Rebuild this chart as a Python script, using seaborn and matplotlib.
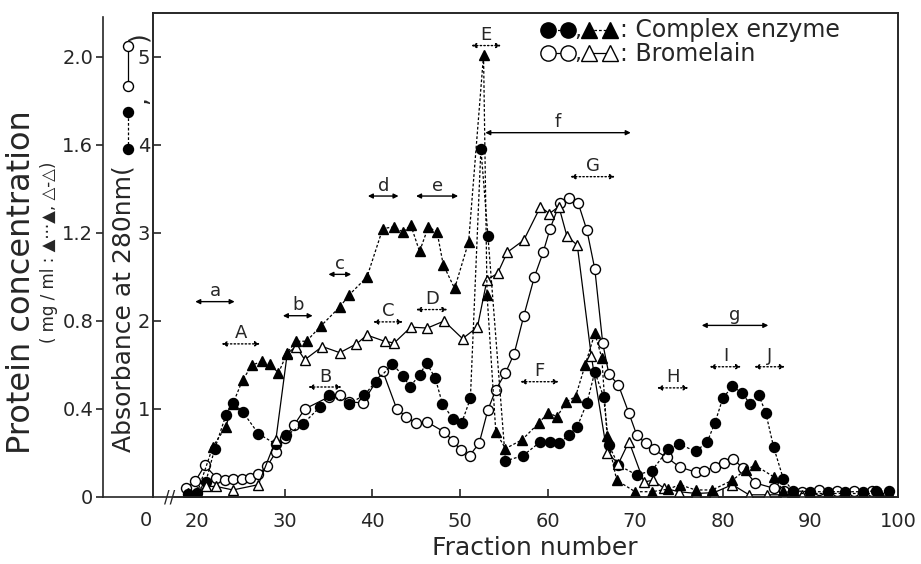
import matplotlib
matplotlib.use("Agg")
import matplotlib.pyplot as plt
import seaborn as sns
import pandas as pd

# ---------------- data ----------------
# Complex enzyme, absorbance at 280 nm (filled circles)
ce_abs_fraction = [19, 20, 21, 22, 23.3, 24.1, 25.2, 27, 29, 30.2, 32.1, 34, 35.1, 37.4, 39.1, 40.4,
                   42.3, 43.5, 44.3, 45.4, 46.2, 47.2, 48, 49.2, 50.2, 51.2, 52.4, 53.2, 55.2, 57.2,
                   59.1, 60.3, 61.3, 62.4, 63.4, 64.5, 65.4, 66.4, 67, 68.1, 70.2, 71.9, 73.8, 75,
                   76.9, 78.2, 79.1, 80, 81.1, 82.2, 83.1, 84.1, 84.9, 85.8, 86.9, 88, 90, 92, 94,
                   96, 97.5, 99]
ce_abs = [0.03, 0.05, 0.17, 0.54, 0.93, 1.07, 0.97, 0.72, 0.60, 0.70, 0.83, 1.02, 1.16, 1.06, 1.16,
          1.31, 1.51, 1.38, 1.25, 1.39, 1.52, 1.35, 1.06, 0.89, 0.84, 1.12, 3.96, 2.97, 0.41, 0.47,
          0.62, 0.63, 0.61, 0.70, 0.80, 1.07, 1.42, 1.14, 0.59, 0.36, 0.25, 0.30, 0.54, 0.60, 0.52,
          0.62, 0.84, 1.12, 1.26, 1.18, 1.06, 1.16, 0.96, 0.57, 0.21, 0.07, 0.06, 0.06, 0.06, 0.06,
          0.07, 0.07]

# Complex enzyme, protein concentration mg/ml (filled triangles)
ce_prot_fraction = [19, 20, 21.8, 23.3, 24.1, 25.2, 26.3, 27.4, 28.3, 29.3, 30.3, 31.3, 32.5, 34.1,
                    36.3, 37.4, 39.4, 41.2, 42.5, 43.5, 44.4, 45.4, 46.4, 47.4, 48.1, 49.4, 51, 52.7,
                    53.1, 54.1, 55.2, 57.1, 59, 60.1, 61.1, 62.1, 63.2, 64.3, 65.4, 66.2, 66.8, 67.9,
                    70, 71.9, 73.8, 75.1, 76.9, 78.8, 81.1, 82.6, 83.7, 85.8, 86.9, 88, 90, 92, 94,
                    96, 98, 99]
ce_prot = [0.016, 0.016, 0.228, 0.32, 0.424, 0.532, 0.60, 0.616, 0.604, 0.564, 0.656, 0.708, 0.708,
           0.776, 0.864, 0.92, 1.0, 1.22, 1.228, 1.204, 1.236, 1.116, 1.228, 1.204, 1.056, 0.948,
           1.16, 2.008, 0.92, 0.296, 0.22, 0.26, 0.336, 0.384, 0.364, 0.432, 0.456, 0.60, 0.744,
           0.632, 0.276, 0.076, 0.024, 0.024, 0.036, 0.056, 0.032, 0.032, 0.076, 0.124, 0.144,
           0.092, 0.028, 0.016, 0.016, 0.016, 0.016, 0.016, 0.016, 0.016]

# Bromelain, absorbance at 280 nm (open circles)
br_abs_fraction = [18.8, 19.8, 20.9, 22.2, 23.2, 24.1, 25.1, 26, 27, 28, 29, 30, 31.1, 32.3, 35.1,
                   36.3, 37.4, 38.9, 41.2, 42.8, 43.9, 45, 46.3, 48.2, 49.2, 50.1, 51.1, 52.2, 53.2,
                   54.1, 55.2, 56.2, 57.3, 58.5, 59.5, 60.3, 61.4, 62.4, 63.5, 64.5, 65.4, 66.3, 67,
                   68.1, 69.3, 70.2, 71.2, 72.1, 73.6, 75.1, 77, 77.9, 79.1, 80.1, 81.2, 82.3, 83.7,
                   85.8, 87, 89, 91, 93, 95, 97]
br_abs = [0.10, 0.18, 0.36, 0.22, 0.19, 0.20, 0.21, 0.22, 0.26, 0.35, 0.51, 0.67, 0.82, 1.0, 1.14,
          1.16, 1.08, 1.07, 1.43, 1.0, 0.91, 0.84, 0.85, 0.74, 0.64, 0.53, 0.47, 0.61, 0.99, 1.22,
          1.41, 1.63, 2.06, 2.50, 2.78, 3.05, 3.34, 3.40, 3.34, 3.03, 2.59, 1.75, 1.40, 1.27, 0.95,
          0.70, 0.61, 0.54, 0.45, 0.34, 0.28, 0.30, 0.34, 0.39, 0.43, 0.33, 0.16, 0.10, 0.07, 0.06,
          0.08, 0.07, 0.07, 0.07]

# Bromelain, protein concentration mg/ml (open triangles)
br_prot_fraction = [19, 20, 21, 22.2, 24.1, 27, 29, 30.3, 31.3, 32.3, 34.3, 36.3, 38.2, 39.4, 41.4,
                    42.5, 44.4, 46.3, 48.2, 50.3, 52, 53.1, 54.3, 55.4, 57.3, 59.2, 60.2, 61.3, 62.2,
                    63.4, 65, 66.8, 68.1, 69.3, 71, 72, 73.3, 75, 77, 79, 81.1, 83, 85, 87, 89]
br_prot = [0.012, 0.024, 0.048, 0.048, 0.032, 0.056, 0.26, 0.652, 0.684, 0.624, 0.684, 0.656, 0.696,
           0.736, 0.708, 0.70, 0.772, 0.768, 0.80, 0.72, 0.772, 0.988, 1.016, 1.112, 1.168, 1.32,
           1.288, 1.32, 1.188, 1.144, 0.64, 0.20, 0.152, 0.252, 0.068, 0.076, 0.04, 0.024, 0.016,
           0.02, 0.056, 0.01, 0.01, 0.01, 0.008]

# Fraction-range annotations: label, start, end, height (absorbance units)
range_labels = ["a", "A", "b", "c", "B", "d", "e", "C", "D", "E", "f", "G", "F", "H", "g", "I", "J"]
range_start = [19.8, 22.8, 29.8, 35.0, 32.7, 39.5, 45.0, 40.1, 45.0, 51.3, 52.9, 62.6, 56.9, 72.5, 77.6, 78.5, 83.6]
range_end = [24.3, 27.2, 33.2, 37.6, 36.5, 43.0, 49.8, 43.5, 48.6, 54.7, 69.5, 67.7, 61.3, 76.1, 85.2, 82.1, 87.1]
range_level = [2.22, 1.74, 2.06, 2.53, 1.25, 3.42, 3.42, 1.99, 2.13, 5.13, 4.14, 3.64, 1.31, 1.24, 1.95, 1.48, 1.48]

x_ticks = [20, 30, 40, 50, 60, 70, 80, 90, 100]
abs_ticks = [1, 2, 3, 4, 5]
prot_ticks = [0, 0.4, 0.8, 1.2, 1.6, 2.0]
prot_tick_labels = ["0", "0.4", "0.8", "1.2", "1.6", "2.0"]
key_labels = ["Complex enzyme", "Bromelain"]

# ---------------- figure ----------------
sns.set_theme(style="ticks")
plt.rcParams["font.family"] = ["DejaVu Sans"]
plt.rcParams["axes.linewidth"] = 1.2

W, H = 921, 564
fig = plt.figure(figsize=(W / 100, H / 100), dpi=100)

def fx(px):
    return px / W

def fy(py):
    return 1 - py / H

x_left_px, x_right_px, y_top_px, y_bot_px = 153, 898, 13, 497
ax = fig.add_axes([fx(x_left_px), fy(y_bot_px), fx(x_right_px - x_left_px), (y_bot_px - y_top_px) / H])
ax0 = fig.add_axes([fx(103), fy(y_bot_px), fx(x_left_px - 103), (y_bot_px - y_top_px) / H])
ax0.patch.set_visible(False)

ABS_TOP = 5.5
PROT_TOP = ABS_TOP * 0.4
XMIN = 20 - (197 - x_left_px) * 80 / (898 - 197)
ax.set_xlim(XMIN, 100)
ax.set_ylim(0, ABS_TOP)
ax2 = ax.twinx()
ax2.set_ylim(0, PROT_TOP)
ax2.set_yticks([])

dot = (0, (2.2, 1.6))
common = dict(color="black", linewidth=0.9, sort=False, estimator=None, markeredgecolor="black",
              markeredgewidth=1.0, legend=False)
sns.lineplot(x=br_abs_fraction, y=br_abs, ax=ax, marker="o", markersize=7.2,
             markerfacecolor="white", linestyle="-", **common)
sns.lineplot(x=br_prot_fraction, y=br_prot, ax=ax2, marker="^", markersize=7.8,
             markerfacecolor="white", linestyle="-", **common)
sns.lineplot(x=ce_abs_fraction, y=ce_abs, ax=ax, marker="o", markersize=7.2,
             markerfacecolor="black", linestyle=dot, **common)
sns.lineplot(x=ce_prot_fraction, y=ce_prot, ax=ax2, marker="^", markersize=7.8,
             markerfacecolor="black", linestyle=dot, **common)

# axes styling
ax.set_xticks(x_ticks)
ax.set_xticklabels([str(t) for t in x_ticks])
ax.set_yticks(abs_ticks)
ax.set_yticklabels([str(t) for t in abs_ticks])
ax.tick_params(axis="x", direction="in", length=6, width=1.2, labelsize=14, pad=11)
ax.tick_params(axis="y", direction="in", length=6, width=1.2, labelsize=14, pad=2)
ax.set_xlabel("")
ax.set_ylabel("")
ax2.set_ylabel("")
ax.spines["bottom"].set_bounds(17.4, 100)

ax.text(XMIN - 0.8, -0.27, "0", ha="center", va="center", fontsize=14)
ax.text(16.9, 0.0, "//", ha="center", va="center", fontsize=12, clip_on=False)

ax0.set_ylim(0, PROT_TOP)
ax0.set_xlim(0, 1)
ax0.set_xticks([])
ax0.set_yticks(prot_ticks)
ax0.set_yticklabels(prot_tick_labels)
ax0.tick_params(axis="y", direction="out", length=5, width=1.2, labelsize=14, pad=2)
ax0.spines["top"].set_visible(False)
ax0.spines["right"].set_visible(False)
ax0.spines["left"].set_bounds(0, 2.18)

# x-axis title
fig.text(fx(535), fy(548), "Fraction number", ha="center", va="center", fontsize=18)

# left titles
fig.text(fx(22), fy(282), "Protein concentration", rotation=90, ha="center", va="center", fontsize=23)
fig.text(fx(49), fy(252), "( mg / ml : \u25b2\u00b7\u00b7\u00b7\u25b2, \u25b3-\u25b3)", rotation=90,
         ha="center", va="center", fontsize=12)
fig.text(fx(124), fy(452), "Absorbance at 280nm(", rotation=90, ha="center", va="bottom", fontsize=18)
yt = ax0.get_yaxis_transform()
ax0.plot([0.5, 0.5], [1.58, 1.75], transform=yt, color="black", lw=0.9, linestyle=dot,
         marker="o", ms=7.2, mfc="black", mec="black", clip_on=False)
ax0.plot([0.5, 0.5], [1.87, 2.05], transform=yt, color="black", lw=0.9, linestyle="-",
         marker="o", ms=7.2, mfc="white", mec="black", clip_on=False)
fig.text(fx(139), fy(100), ",", rotation=90, ha="center", va="center", fontsize=18)
fig.text(fx(138), fy(36), ")", rotation=90, ha="center", va="center", fontsize=18)

# top-right key
at = ax.transAxes
def axpt(px, py):
    return ((px - x_left_px) / (x_right_px - x_left_px), (y_bot_px - py) / (y_bot_px - y_top_px))

for row_y, face, ls in [(30, "black", dot), (53, "white", "-")]:
    (x1, y1), (x2, _) = axpt(548, row_y), axpt(568, row_y)
    ax.plot([x1, x2], [y1, y1], transform=at, color="black", lw=0.9, linestyle=ls, marker="o",
            ms=11, mfc=face, mec="black", clip_on=False)
    (x3, _), (x4, _) = axpt(589, row_y), axpt(610, row_y)
    ax.plot([x3, x4], [y1, y1], transform=at, color="black", lw=0.9, linestyle=ls, marker="^",
            ms=11, mfc=face, mec="black", clip_on=False)
    fig.text(fx(578), fy(row_y + 7), ",", ha="center", va="baseline", fontsize=16)
fig.text(fx(620), fy(42), ": " + key_labels[0] + "\n: " + key_labels[1], ha="left",
         va="center", fontsize=17, linespacing=0.97)

# fraction-range arrows
for lab, x0, x1, lev in zip(range_labels, range_start, range_end, range_level):
    dotted = lab.isupper()
    ax.annotate("", xy=(x1, lev), xytext=(x0, lev),
                arrowprops=dict(arrowstyle="<|-|>", lw=1.0, color="black",
                                linestyle=":" if dotted else "-", mutation_scale=7,
                                shrinkA=0, shrinkB=0))
    ax.annotate(lab, xy=((x0 + x1) / 2, lev), xytext=(0, 1), textcoords="offset points",
                ha="center", va="bottom", fontsize=13)

fig.savefig("out.png", dpi=100)
